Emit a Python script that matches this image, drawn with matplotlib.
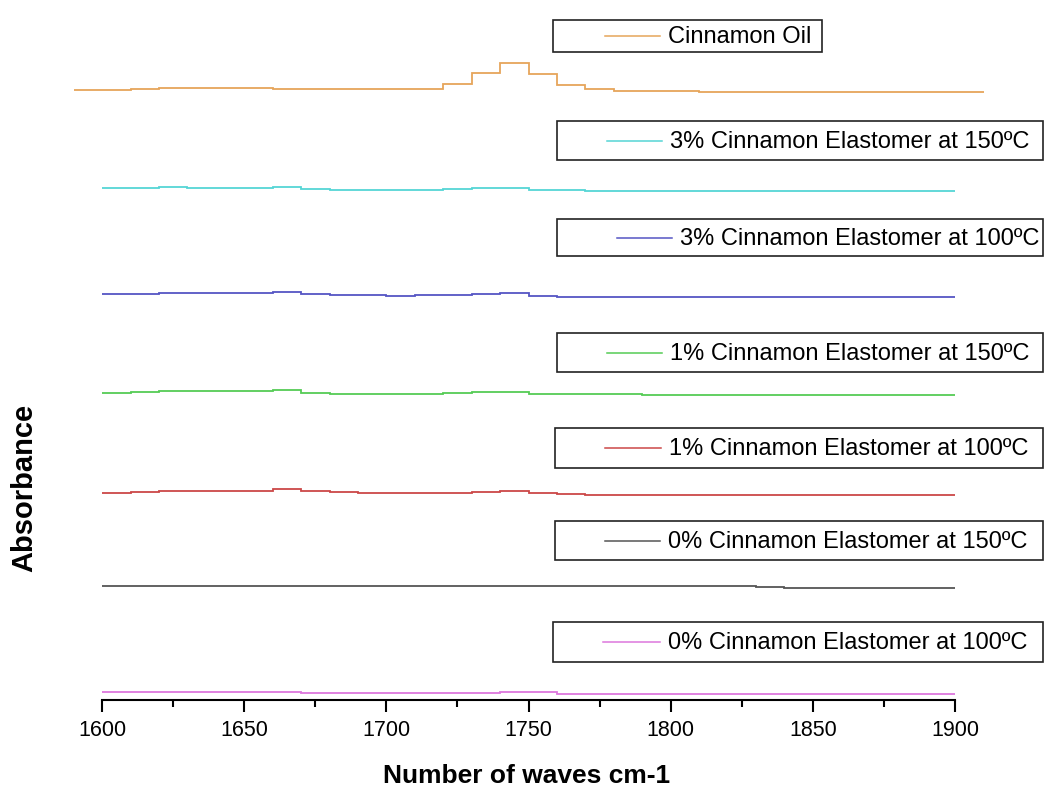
import numpy as np
import matplotlib

matplotlib.use("Agg")
import matplotlib.pyplot as plt
from matplotlib.patches import Rectangle
from matplotlib.lines import Line2D

plt.rcParams["font.family"] = ["Liberation Sans", "DejaVu Sans"]

# wavenumber edges (cm-1) of the stepped spectra
oil_edges = np.arange(1590, 1911, 10)
sample_edges = np.arange(1600, 1901, 10)

# stacked absorbance traces (offset per sample), one value per 10 cm-1 step
oil = [6.100, 6.100, 6.107, 6.117, 6.117, 6.117, 6.117, 6.107, 6.107, 6.107,
       6.107, 6.107, 6.113, 6.160, 6.270, 6.373, 6.265, 6.150, 6.107, 6.090,
       6.090, 6.090] + [6.080] * 10
c3_150 = [5.117, 5.117, 5.127, 5.120, 5.120, 5.120, 5.127, 5.110, 5.103, 5.103,
          5.103, 5.103, 5.110, 5.120, 5.120, 5.103, 5.100] + [5.093] * 13
c3_100 = [4.060, 4.060, 4.070, 4.070, 4.070, 4.070, 4.080, 4.060, 4.053, 4.053,
          4.043, 4.050, 4.050, 4.057, 4.067, 4.043] + [4.033] * 13 + [4.027]
c1_150 = [3.073, 3.080] + [3.087] * 4 + [3.097, 3.070] + [3.063] * 4 + \
         [3.070, 3.083, 3.083, 3.063, 3.057, 3.057, 3.057] + [3.047] * 11
c1_100 = [2.073, 2.080] + [2.090] * 4 + [2.107, 2.093, 2.077] + [2.067] * 4 + \
         [2.077, 2.087, 2.067, 2.060] + [2.050] * 13
c0_150 = [1.143] * 11 + [1.137] * 7 + [1.143] * 5 + [1.133] + [1.123] * 6
c0_100 = [0.083] * 7 + [0.073] * 7 + [0.083, 0.077] + [0.063] * 14

labels = [
    "Cinnamon Oil",
    "3% Cinnamon Elastomer at 150ºC",
    "3% Cinnamon Elastomer at 100ºC",
    "1% Cinnamon Elastomer at 150ºC",
    "1% Cinnamon Elastomer at 100ºC",
    "0% Cinnamon Elastomer at 150ºC",
    "0% Cinnamon Elastomer at 100ºC",
]
series = [oil, c3_150, c3_100, c1_150, c1_100, c0_150, c0_100]
colors = ["#E6A55A", "#55D5D5", "#5555C4", "#55CC55", "#CC4848", "#555555", "#DD77DD"]

# key boxes in pixels: (left, top, right, bottom, handle_start, handle_end)
key_boxes = [
    (553, 20, 822, 52, 605, 660),
    (557, 121, 1043, 160, 607, 662),
    (557, 219, 1043, 256, 617, 672),
    (557, 333, 1043, 372, 607, 662),
    (555, 428, 1043, 468, 605, 661),
    (555, 521, 1043, 560, 605, 660),
    (553, 622, 1043, 662, 603, 660),
]

W, H = 1051, 789
fig = plt.figure(figsize=(W / 100, H / 100), dpi=100)
ax = fig.add_axes([60 / W, (H - 700) / H, 940 / W, 680 / H])

for values, color in zip(series, colors):
    edges = oil_edges if len(values) == len(oil_edges) - 1 else sample_edges
    ax.stairs(values, edges, baseline=None, color=color, lw=1.3)

ax.set_xlim(1585.2, 1915.8)
ax.set_ylim(0, 6.8)
for side in ("top", "right", "left"):
    ax.spines[side].set_visible(False)
ax.spines["bottom"].set_bounds(1600, 1900)
ax.spines["bottom"].set_linewidth(1.5)
ax.set_yticks([])
ax.set_xticks(np.arange(1600, 1901, 50))
ax.set_xticks(np.arange(1625, 1900, 50), minor=True)
ax.tick_params(axis="x", which="major", length=8.5, width=1.5, labelsize=15.5, pad=6)
ax.tick_params(axis="x", which="minor", length=5, width=1.5)

fig.text(527 / W, 1 - 776 / H, "Number of waves cm-1", ha="center", va="center",
         fontsize=19, fontweight="bold")
fig.text(24 / W, 1 - 488 / H, "Absorbance", ha="center", va="center",
         rotation=90, fontsize=21, fontweight="bold")


def draw_key(box, label, color):
    left, top, right, bottom, h0, h1 = box
    fig.patches.append(Rectangle((left / W, 1 - bottom / H), (right - left) / W,
                                 (bottom - top) / H, transform=fig.transFigure,
                                 fill=False, edgecolor="#222222", lw=1.2))
    yc = 1 - (top + bottom) / 2 / H
    fig.lines.append(Line2D([h0 / W, h1 / W], [yc, yc], transform=fig.transFigure,
                            color=color, lw=1.1))
    fig.text((h1 + 8) / W, yc - 1 / H, label, ha="left", va="center", fontsize=17)


for box, label, color in zip(key_boxes, labels, colors):
    draw_key(box, label, color)

fig.savefig("out.png", dpi=100)
plt.close(fig)
